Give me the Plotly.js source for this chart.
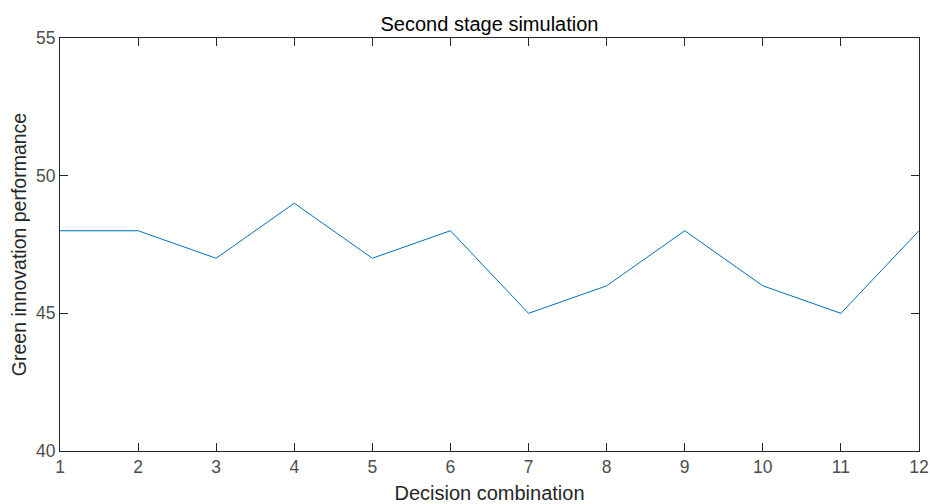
<!DOCTYPE html>
<html>
<head>
<meta charset="utf-8">
<script src="https://cdn.plot.ly/plotly-3.0.1.min.js"></script>
<style>html,body{margin:0;padding:0;background:#fff;}#chart{width:930px;height:504px;}</style>
</head>
<body>
<div id="chart"></div>
<script>
const combinations = [1, 2, 3, 4, 5, 6, 7, 8, 9, 10, 11, 12];
const performance = [48, 48, 47, 49, 47, 48, 45, 46, 48, 46, 45, 48];
const xTicks = [1, 2, 3, 4, 5, 6, 7, 8, 9, 10, 11, 12];
const yTicks = [40, 45, 50, 55];

const FONT = 'Liberation Sans, Arial, sans-serif';

const axisCommon = {
  showgrid: false,
  zeroline: false,
  showline: true,
  linecolor: '#262626',
  linewidth: 1,
  mirror: 'ticks',
  ticks: 'inside',
  ticklen: 8,
  tickwidth: 1,
  tickcolor: '#262626',
  tickfont: {family: FONT, size: 17.5, color: '#4d4d4d'}
};

const trace = {
  x: combinations,
  y: performance,
  type: 'scatter',
  mode: 'lines',
  line: {color: '#0072BD', width: 1},
  hoverinfo: 'skip'
};

const layout = {
  width: 930,
  height: 504,
  margin: {l: 60, r: 11, t: 38, b: 53},
  paper_bgcolor: '#ffffff',
  plot_bgcolor: '#ffffff',
  showlegend: false,
  title: {
    text: 'Second stage simulation',
    font: {family: FONT, size: 20, color: '#000000'},
    x: 0.5, xref: 'paper', y: 1, yref: 'paper', yanchor: 'bottom', pad: {b: 7}
  },
  xaxis: Object.assign({}, axisCommon, {
    range: [1, 12],
    tickvals: xTicks,
    ticktext: xTicks.map(String),
    title: {text: 'Decision combination', standoff: 11,
      font: {family: FONT, size: 20, color: '#262626'}}
  }),
  yaxis: Object.assign({}, axisCommon, {
    range: [40, 55],
    tickvals: yTicks,
    ticktext: yTicks.map(String),
    title: {text: 'Green innovation performance', standoff: 4,
      font: {family: FONT, size: 19.5, color: '#262626'}}
  })
};

Plotly.newPlot('chart', [trace], layout, {staticPlot: true, displayModeBar: false});
</script>
</body>
</html>
